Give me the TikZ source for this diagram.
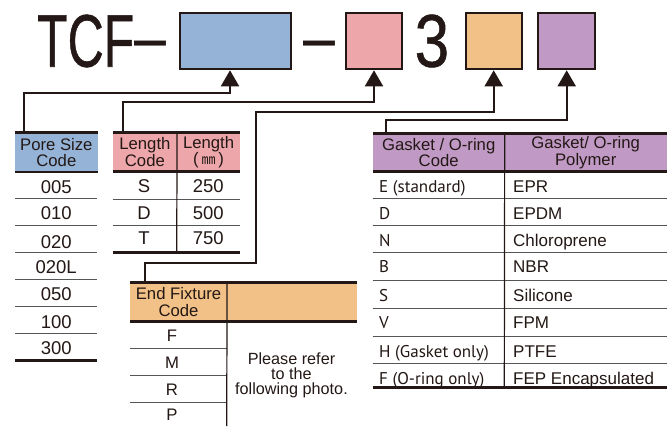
\documentclass[tikz,border=0pt]{standalone}
\usepackage{fontspec}
\setmainfont{Liberation Sans}
\newfontfamily\myr{PT Sans}
\newfontfamily\cjk{Noto Sans CJK JP}
\newfontfamily\titlefont[FakeBold=0.8]{Liberation Sans}
\usetikzlibrary{arrows.meta}
\definecolor{ink}{HTML}{231815}
\definecolor{cblue}{HTML}{94B3D7}
\definecolor{cpink}{HTML}{EDA6A9}
\definecolor{corange}{HTML}{F2C187}
\definecolor{cpurple}{HTML}{C09AC4}
\definecolor{rulegray}{HTML}{555555}
\begin{document}
\begin{tikzpicture}[x=1pt,y=-1pt,
  codebox/.style={draw=ink,line width=2pt,inner sep=0pt,minimum height=56pt},
  titletext/.style={inner sep=0pt,anchor=base west,text=ink,font=\titlefont\fontsize{74.6}{74.6}\selectfont},
  dashtext/.style={inner sep=0pt,anchor=base west,text=ink,font=\fontsize{74.6}{74.6}\selectfont},
  conn/.style={draw=ink,line width=2pt},
  arr/.style={conn,-{Triangle[length=16pt,width=18pt]}},
  hdr/.style={inner sep=0pt,anchor=north west,align=center,font=\fontsize{16.7}{16.7}\selectfont,text=ink},
  cell/.style={inner sep=0pt,anchor=base,font=\fontsize{18.5}{18.5}\selectfont,text=ink},
  gcell/.style={inner sep=0pt,anchor=base west,font=\fontsize{17}{17}\selectfont,text=ink},
  gleft/.style={gcell,font=\myr\fontsize{17}{17}\selectfont},
  fcell/.style={inner sep=0pt,anchor=base,font=\fontsize{16.7}{16.7}\selectfont,text=ink},
  heavy/.style={draw=ink,line width=2.6pt},
  rowline/.style={draw=rulegray,line width=0.9pt},
  vdiv/.style={draw=ink,line width=1.2pt},
]
\useasboundingbox[fill=white] (0,0) rectangle (668,426);

% ---- title ----
\node[titletext] (tcf) at (36.9,66.7) {\scalebox{0.67}[1]{TCF}};
\node[dashtext] (d1) at (134,62.3) {\scalebox{0.77}[1]{–}};
\node[dashtext] (d2) at (303,62.3) {\scalebox{0.77}[1]{–}};
\node[titletext] (three) at (414.5,66.7) {\scalebox{0.83}[1]{3}};

\node[codebox,fill=cblue,minimum width=111pt] (bblue) at (235.5,41.3) {};
\node[codebox,fill=cpink,minimum width=56.6pt] (bpink) at (374,41.3) {};
\node[codebox,fill=corange,minimum width=56pt] (borange) at (493.7,41.3) {};
\node[codebox,fill=cpurple,minimum width=56.7pt] (bpurple) at (566.7,41.3) {};

% ---- pore size table ----
\node[hdr,fill=cblue,minimum width=82.3pt,minimum height=39pt] (poreh) at (15,132.7) {Pore Size\\Code};
\draw[heavy] (poreh.north west) -- (poreh.north east);
\draw[heavy] (poreh.south west) -- (poreh.south east);
\foreach \y in {198.7,225.7,252.7,279.3,306.7,333.3} \draw[rowline] (15,\y) -- (97.3,\y);
\draw[heavy] (15,360.3) -- (97.3,360.3);
\node[cell] (p1) at (56.2,193.3) {005};
\node[cell] (p2) at (56.2,219.3) {010};
\node[cell] (p3) at (56.2,248.3) {020};
\node[cell] (p4) at (56.2,273.3) {020L};
\node[cell] (p5) at (56.2,300.6) {050};
\node[cell] (p6) at (56.2,328.3) {100};
\node[cell] (p7) at (56.2,354.9) {300};

% ---- length table ----
\node[hdr,fill=cpink,minimum width=64pt,minimum height=38.3pt] (lenh) at (112.7,132.7) {Length\\Code};
\node[hdr,fill=cpink,minimum width=63.3pt,minimum height=38.3pt] (lenmm) at (176.7,132.7) {Length\\(\,{\cjk\fontsize{14}{14}\selectfont ㎜}\,)};
\draw[heavy] (lenh.north west) -- (lenmm.north east);
\draw[heavy] (lenh.south west) -- (lenmm.south east);
\foreach \y in {199,225.7} \draw[rowline] (112.7,\y) -- (240,\y);
\draw[heavy] (112.7,252.5) -- (240,252.5);
\draw[vdiv] (lenh.north east) -- (176.7,252.5);
\node[cell] (l1) at (144,192.5) {S};
\node[cell] (l2) at (144,219) {D};
\node[cell] (l3) at (144,244.5) {T};
\node[cell] (m1) at (208.3,192.5) {250};
\node[cell] (m2) at (208.3,219) {500};
\node[cell] (m3) at (208.3,244.5) {750};

% ---- end fixture table ----
\node[hdr,fill=corange,minimum width=96.7pt,minimum height=38.7pt] (endh) at (130,282.3) {End Fixture\\Code};
\node[hdr,fill=corange,minimum width=130pt,minimum height=38.7pt] (endr) at (226.7,282.3) {};
\draw[heavy] (endh.north west) -- (endr.north east);
\draw[heavy] (endh.south west) -- (endr.south east);
\foreach \y in {348.3,375,402.3} \draw[rowline] (130,\y) -- (226.7,\y);
\draw[vdiv] (endh.north east) -- (226.7,426);
\node[fcell] (e1) at (172,341.8) {F};
\node[fcell] (e2) at (172,368.5) {M};
\node[fcell] (e3) at (172,395) {R};
\node[fcell] (e4) at (172,420.2) {P};
\node[inner sep=0pt,align=center,text=ink,font=\fontsize{16.2}{14.9}\selectfont] (note) at (291.5,375.7) {Please refer\\to the\\following photo.};

% ---- gasket table ----
\node[hdr,fill=cpurple,minimum width=131.6pt,minimum height=38pt] (gash) at (372.7,133.3) {Gasket / O-ring\\Code};
\node[hdr,fill=cpurple,minimum width=162.4pt,minimum height=38pt] (gasp) at (504.3,133.3) {Gasket/ O-ring\\Polymer};
\draw[heavy] (gash.north west) -- (gasp.north east);
\draw[heavy] (gash.south west) -- (gasp.south east);
\foreach \y in {198.3,225,252.3,280.7,308.3,336,363.3} \draw[rowline] (372.7,\y) -- (666.7,\y);
\draw[heavy] (372.7,387.3) -- (666.7,387.3);
\draw[vdiv] (gash.north east) -- (504.3,387.3);
\node[gleft] (g1) at (379,192.8) {E (standard)};
\node[gleft] (g2) at (379,219.4) {D};
\node[gleft] (g3) at (379,246.1) {N};
\node[gleft] (g4) at (379,272.6) {B};
\node[gleft] (g5) at (379,301.1) {S};
\node[gleft] (g6) at (379,328.6) {V};
\node[gleft] (g7) at (379,357.1) {H (Gasket only)};
\node[gleft] (g8) at (379,384.1) {F (O-ring only)};
\node[gcell] (q1) at (513,192.8) {EPR};
\node[gcell] (q2) at (513,219.4) {EPDM};
\node[gcell] (q3) at (513,246.1) {Chloroprene};
\node[gcell] (q4) at (513,272.6) {NBR};
\node[gcell] (q5) at (513,301.1) {Silicone};
\node[gcell] (q6) at (513,328.6) {FPM};
\node[gcell] (q7) at (513,357.1) {PTFE};
\node[gcell] (q8) at (513,384.1) {FEP Encapsulated};

% ---- connectors ----
\coordinate (k3) at (256.4,263.3);
\draw[arr] ([xshift=9pt]poreh.north west) |- ([xshift=-5.5pt,yshift=-22.4pt]bblue.south) -- ([xshift=-5.5pt]bblue.south);
\draw[arr] ([xshift=10pt]lenh.north west) |- ([yshift=-31.4pt]bpink.south) -- (bpink.south);
\draw[arr] ([xshift=15pt]endh.north west) |- (k3) |- ([yshift=-41.4pt]borange.south) -- (borange.south);
\draw[arr] ([xshift=13.6pt]gash.north west) |- ([yshift=-49.7pt]bpurple.south) -- (bpurple.south);
\end{tikzpicture}
\end{document}
